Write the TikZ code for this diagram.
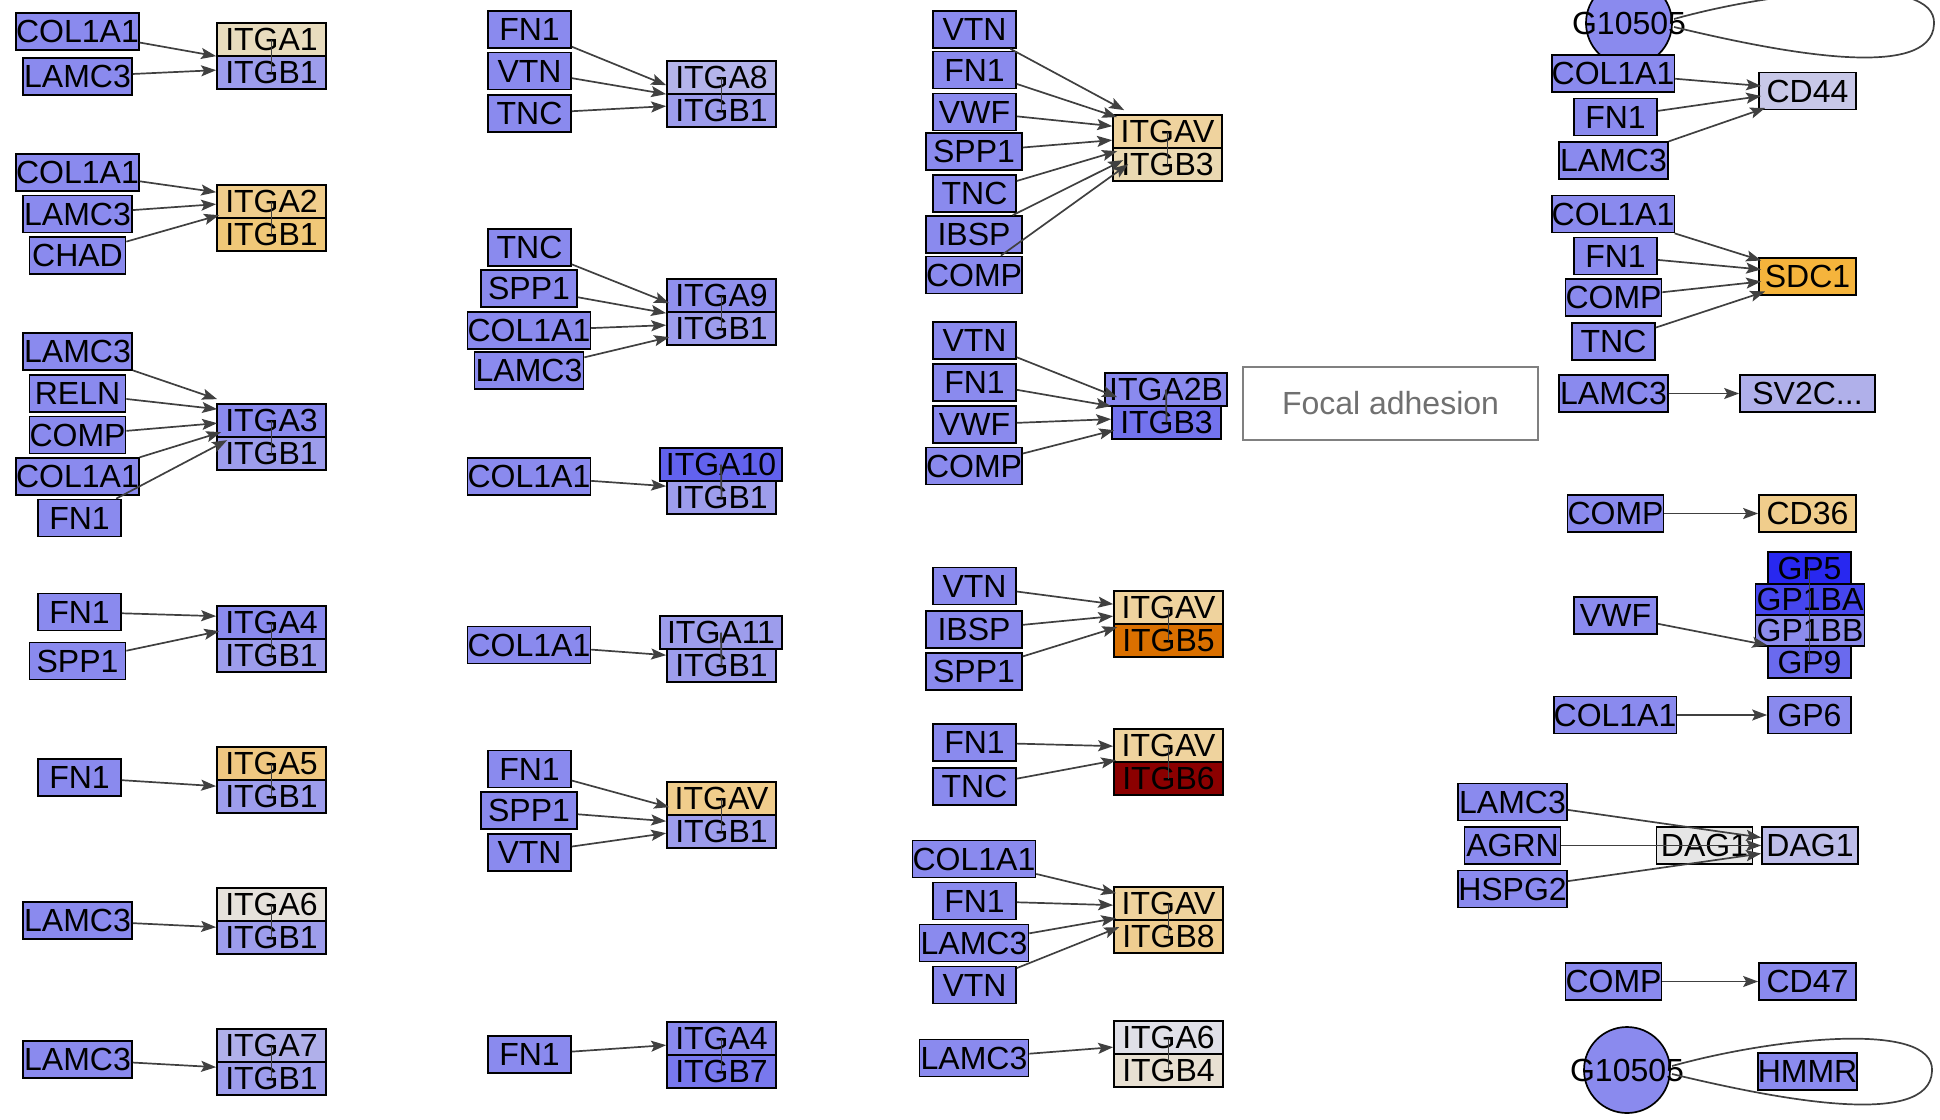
\documentclass[tikz,border=0pt]{standalone}
\usepackage{fontspec}
\setmainfont{Liberation Sans}
\usetikzlibrary{arrows.meta,calc}
\definecolor{ligand}{RGB}{138,138,238}
\definecolor{itgbone}{RGB}{157,157,236}
\definecolor{itgaone}{RGB}{232,220,190}
\definecolor{itgatwo}{RGB}{240,205,140}
\definecolor{itgbor}{RGB}{240,200,120}
\definecolor{itgafive}{RGB}{240,200,130}
\definecolor{itgasix}{RGB}{230,226,220}
\definecolor{itgaseven}{RGB}{176,176,234}
\definecolor{itgaeight}{RGB}{180,180,234}
\definecolor{itganine}{RGB}{144,144,238}
\definecolor{itgaten}{RGB}{98,98,238}
\definecolor{itgavor}{RGB}{240,205,140}
\definecolor{itgbseven}{RGB}{120,120,238}
\definecolor{itgavtan}{RGB}{239,211,158}
\definecolor{itgbthreetan}{RGB}{234,217,178}
\definecolor{itgbthreeblue}{RGB}{115,115,238}
\definecolor{itgbfive}{RGB}{218,112,0}
\definecolor{itgbsix}{RGB}{139,0,0}
\definecolor{itgbeight}{RGB}{239,205,144}
\definecolor{itgasixb}{RGB}{224,224,232}
\definecolor{itgbfour}{RGB}{232,224,210}
\definecolor{cdff}{RGB}{200,200,232}
\definecolor{sdcone}{RGB}{245,180,60}
\definecolor{svtwoc}{RGB}{176,176,234}
\definecolor{gpfive}{RGB}{40,40,240}
\definecolor{gponeba}{RGB}{70,70,238}
\definecolor{gponebb}{RGB}{140,140,236}
\definecolor{gpnine}{RGB}{106,106,238}
\definecolor{daggray}{RGB}{230,230,230}
\definecolor{dagone}{RGB}{190,190,234}
\definecolor{edgegray}{RGB}{64,64,64}
\definecolor{notegray}{RGB}{128,128,128}
\definecolor{notetext}{RGB}{112,112,112}
\newcommand{\genefont}{\fontsize{32}{32}\selectfont}

\begin{document}
\begin{tikzpicture}[x=1pt, y=-1pt,
    gene/.style={draw=black, line width=1.7pt, inner sep=0pt, minimum height=37pt, font=\genefont},
    half/.style={gene, minimum height=33pt},
    w83/.style={minimum width=83pt},
    w96/.style={minimum width=96pt},
    w109/.style={minimum width=109pt},
    w122/.style={minimum width=122pt},
    hub/.style={circle, draw=black, line width=1.7pt, fill=ligand, minimum size=86pt, inner sep=0pt},
    sig/.style={draw=edgegray, line width=1.7pt, -{Stealth[length=15pt,width=11pt,inset=3pt]}},
    bond/.style={draw=edgegray, line width=1.8pt},
    selfloop/.style={draw=edgegray, line width=1.7pt}]
  \useasboundingbox (0,0) rectangle (1940,1119);
  \clip (0,0) rectangle (1940,1119);
  % column 1: ITGB1 partners
  \node[gene, w122, fill=ligand] (p1col) at (77.5,31.5) {COL1A1};
  \node[gene, w109, fill=ligand] (p1lam) at (77.5,76.5) {LAMC3};
  \node[half, w109, fill=itgaone] (a1) at (271.5,39.5) {ITGA1};
  \node[half, w109, fill=itgbone] (b1) at (271.5,72.5) {ITGB1};
  \node[gene, w122, fill=ligand] (p2col) at (77.5,172.5) {COL1A1};
  \node[gene, w109, fill=ligand] (p2lam) at (77.5,214) {LAMC3};
  \node[gene, w96, fill=ligand] (p2chad) at (77.5,255.5) {CHAD};
  \node[half, w109, fill=itgatwo] (a2) at (271.5,201.5) {ITGA2};
  \node[half, w109, fill=itgbor] (b2) at (271.5,234.5) {ITGB1};
  \node[gene, w109, fill=ligand] (p3lam) at (77.5,351.5) {LAMC3};
  \node[gene, w96, fill=ligand] (p3reln) at (77.5,393.5) {RELN};
  \node[gene, w96, fill=ligand] (p3comp) at (77.5,435) {COMP};
  \node[gene, w122, fill=ligand] (p3col) at (77.5,476.5) {COL1A1};
  \node[gene, w83, fill=ligand] (p3fn) at (79.5,518) {FN1};
  \node[half, w109, fill=ligand] (a3) at (271.5,420.5) {ITGA3};
  \node[half, w109, fill=itgbone] (b3) at (271.5,453.5) {ITGB1};
  \node[gene, w83, fill=ligand] (p4fn) at (79.5,612) {FN1};
  \node[gene, w96, fill=ligand] (p4spp) at (77.5,661) {SPP1};
  \node[half, w109, fill=ligand] (a4) at (271.5,622.5) {ITGA4};
  \node[half, w109, fill=itgbone] (b4) at (271.5,655.5) {ITGB1};
  \node[gene, w83, fill=ligand] (p5fn) at (79.5,777.5) {FN1};
  \node[half, w109, fill=itgafive] (a5) at (271.5,763.5) {ITGA5};
  \node[half, w109, fill=itgbone] (b5) at (271.5,796.5) {ITGB1};
  \node[gene, w109, fill=ligand] (p6lam) at (77.5,920.5) {LAMC3};
  \node[half, w109, fill=itgasix] (a6) at (271.5,904.5) {ITGA6};
  \node[half, w109, fill=itgbone] (b6) at (271.5,937.5) {ITGB1};
  \node[gene, w109, fill=ligand] (p7lam) at (77.5,1059.5) {LAMC3};
  \node[half, w109, fill=itgaseven] (a7) at (271.5,1045.5) {ITGA7};
  \node[half, w109, fill=itgbone] (b7) at (271.5,1078.5) {ITGB1};
  % column 2
  \node[gene, w83, fill=ligand] (p8fn) at (529.5,29.5) {FN1};
  \node[gene, w83, fill=ligand] (p8vtn) at (529.5,71) {VTN};
  \node[gene, w83, fill=ligand] (p8tnc) at (529.5,113.5) {TNC};
  \node[half, w109, fill=itgaeight] (a8) at (721.5,77.5) {ITGA8};
  \node[half, w109, fill=itgbone] (b8) at (721.5,110.5) {ITGB1};
  \node[gene, w83, fill=ligand] (p9tnc) at (529.5,247.5) {TNC};
  \node[gene, w96, fill=ligand] (p9spp) at (529,288.5) {SPP1};
  \node[gene, w122, fill=ligand] (p9col) at (529,330.5) {COL1A1};
  \node[gene, w109, fill=ligand] (p9lam) at (529,370.5) {LAMC3};
  \node[half, w109, fill=itganine] (a9) at (721.5,295.5) {ITGA9};
  \node[half, w109, fill=itgbone] (b9) at (721.5,328.5) {ITGB1};
  \node[gene, w122, fill=ligand] (p10col) at (529,476.5) {COL1A1};
  \node[half, w109, fill=itgbone] (b10) at (721.5,497.5) {ITGB1};
  \node[half, w122, fill=itgaten] (a10) at (721,464.5) {ITGA10};
  \node[gene, w122, fill=ligand] (p11col) at (529,645) {COL1A1};
  \node[half, w109, fill=itgbone] (b11) at (721.5,665.5) {ITGB1};
  \node[half, w122, fill=itgbone] (a11) at (721,632.5) {ITGA11};
  \node[gene, w83, fill=ligand] (p12fn) at (529.5,769) {FN1};
  \node[gene, w96, fill=ligand] (p12spp) at (529,810.5) {SPP1};
  \node[gene, w83, fill=ligand] (p12vtn) at (529.5,852.5) {VTN};
  \node[half, w109, fill=itgavor] (a12) at (721.5,798.5) {ITGAV};
  \node[half, w109, fill=itgbone] (b12) at (721.5,831.5) {ITGB1};
  \node[gene, w83, fill=ligand] (p13fn) at (529.5,1054.5) {FN1};
  \node[half, w109, fill=ligand] (a13) at (721.5,1038.5) {ITGA4};
  \node[half, w109, fill=itgbseven] (b13) at (721.5,1071.5) {ITGB7};
  % column 3: ITGAV and others
  \node[gene, w83, fill=ligand] (p14vtn) at (974.5,29.5) {VTN};
  \node[gene, w83, fill=ligand] (p14fn) at (974.5,70) {FN1};
  \node[gene, w83, fill=ligand] (p14vwf) at (974.5,112) {VWF};
  \node[gene, w96, fill=ligand] (p14spp) at (974,151.5) {SPP1};
  \node[gene, w83, fill=ligand] (p14tnc) at (974.5,193.5) {TNC};
  \node[gene, w96, fill=ligand] (p14ibsp) at (974,234.5) {IBSP};
  \node[gene, w96, fill=ligand] (p14comp) at (974,275) {COMP};
  \node[half, w109, fill=itgavtan] (a14) at (1167.5,131.5) {ITGAV};
  \node[half, w109, fill=itgbthreetan] (b14) at (1167.5,164.5) {ITGB3};
  \node[gene, w83, fill=ligand] (p15vtn) at (974.5,340.5) {VTN};
  \node[gene, w83, fill=ligand] (p15fn) at (974.5,382.5) {FN1};
  \node[gene, w83, fill=ligand] (p15vwf) at (974.5,424.5) {VWF};
  \node[gene, w96, fill=ligand] (p15comp) at (974,466) {COMP};
  \node[half, w109, fill=itgbthreeblue] (b15) at (1166.5,422.5) {ITGB3};
  \node[half, w122, fill=ligand] (a15) at (1166,389.5) {ITGA2B};
  \node[gene, w83, fill=ligand] (p16vtn) at (974.5,586) {VTN};
  \node[gene, w96, fill=ligand] (p16ibsp) at (974,629.5) {IBSP};
  \node[gene, w96, fill=ligand] (p16spp) at (974,671.5) {SPP1};
  \node[half, w109, fill=itgavtan] (a16) at (1168.5,607.5) {ITGAV};
  \node[half, w109, fill=itgbfive] (b16) at (1168.5,640.5) {ITGB5};
  \node[gene, w83, fill=ligand] (p17fn) at (974.5,742.5) {FN1};
  \node[gene, w83, fill=ligand] (p17tnc) at (974.5,786.5) {TNC};
  \node[half, w109, fill=itgavtan] (a17) at (1168.5,745.5) {ITGAV};
  \node[half, w109, fill=itgbsix] (b17) at (1168.5,778.5) {ITGB6};
  \node[gene, w122, fill=ligand] (p18col) at (974,859) {COL1A1};
  \node[gene, w83, fill=ligand] (p18fn) at (974.5,901) {FN1};
  \node[gene, w109, fill=ligand] (p18lam) at (974,943) {LAMC3};
  \node[gene, w83, fill=ligand] (p18vtn) at (974.5,985) {VTN};
  \node[half, w109, fill=itgavtan] (a18) at (1168.5,903.5) {ITGAV};
  \node[half, w109, fill=itgbeight] (b18) at (1168.5,936.5) {ITGB8};
  \node[gene, w109, fill=ligand] (p19lam) at (974,1058) {LAMC3};
  \node[half, w109, fill=itgasixb] (a19) at (1168.5,1037.5) {ITGA6};
  \node[half, w109, fill=itgbfour] (b19) at (1168.5,1070.5) {ITGB4};
  % label box
  \node[draw=notegray, line width=2pt, fill=white, minimum width=295pt, minimum height=73pt,
    font=\genefont, text=notetext] (focal) at (1390.5,403.5) {Focal adhesion};
  % column 4: other receptors
  \node[hub, label={[font=\genefont]center:G10505}] (hubtop) at (1629,23) {};
  \node[gene, w122, fill=ligand] (q1col) at (1613,73.5) {COL1A1};
  \node[gene, w83, fill=ligand] (q1fn) at (1615.5,117) {FN1};
  \node[gene, w109, fill=ligand] (q1lam) at (1613.5,160.5) {LAMC3};
  \node[gene, minimum width=97pt, fill=cdff] (cd44) at (1807.5,91) {CD44};
  \node[gene, w122, fill=ligand] (q2col) at (1613,214) {COL1A1};
  \node[gene, w83, fill=ligand] (q2fn) at (1615.5,256) {FN1};
  \node[gene, w96, fill=ligand] (q2comp) at (1613.5,297.5) {COMP};
  \node[gene, w83, fill=ligand] (q2tnc) at (1613.5,341.5) {TNC};
  \node[gene, minimum width=97pt, fill=sdcone] (sdc1) at (1807.5,276.5) {SDC1};
  \node[gene, w109, fill=ligand] (q3lam) at (1613.5,393.5) {LAMC3};
  \node[gene, minimum width=135pt, fill=svtwoc] (sv2c) at (1807.5,393.5) {SV2C...};
  \node[gene, w96, fill=ligand] (q4comp) at (1615.5,513.5) {COMP};
  \node[gene, minimum width=97pt, fill=itgavor] (cd36) at (1807.5,513.5) {CD36};
  \node[gene, w83, fill=ligand] (q5vwf) at (1615.5,615.5) {VWF};
  \node[gene, w83, minimum height=32pt, fill=gpfive] (gp5) at (1809.5,568) {GP5};
  \node[gene, w109, minimum height=31pt, fill=gponeba] (gp1ba) at (1810,599.5) {GP1BA};
  \node[gene, w109, minimum height=31pt, fill=gponebb] (gp1bb) at (1810,630.5) {GP1BB};
  \node[gene, w83, minimum height=32pt, fill=gpnine] (gp9) at (1809.5,662) {GP9};
  \node[gene, w122, fill=ligand] (q6col) at (1615,715) {COL1A1};
  \node[gene, w83, fill=ligand] (gp6) at (1809.5,715) {GP6};
  \node[gene, w109, fill=ligand] (q7lam) at (1512.5,802) {LAMC3};
  \node[gene, w96, fill=ligand] (q7agrn) at (1512.5,845.5) {AGRN};
  \node[gene, w109, fill=ligand] (q7hspg) at (1512.5,889) {HSPG2};
  \node[gene, w96, fill=daggray] (dagx) at (1704.5,845.5) {DAG1};
  \node[gene, w96, fill=dagone] (dag1) at (1810,845.5) {DAG1};
  \node[gene, w96, fill=ligand] (q8comp) at (1613.5,981.5) {COMP};
  \node[gene, minimum width=97pt, fill=ligand] (cd47) at (1807.5,981.5) {CD47};
  \node[hub, label={[font=\genefont]center:G10505}] (hubbot) at (1627,1070) {};
  \node[gene, minimum width=97pt, fill=ligand] (hmmr) at (1807.5,1071.5) {HMMR};
  % complex links
  \foreach \n in {1,...,19}
    \draw[bond] (a\n.center) -- (b\n.center);
  \draw[bond] (gp5.center) -- (gp9.center);
  % ligand arrows, column 1
  \draw[sig] (p1col) -- ($(b1.north west)+(0,1)$);
  \draw[sig] (p1lam) -- ($(b1.north west)+(0,15)$);
  \draw[sig] (p2col) -- ($(b2.north west)+(0,-25)$);
  \draw[sig] (p2lam) -- ($(b2.north west)+(0,-13)$);
  \draw[sig] (p2chad) -- ($(b2.north west)+(3,-2)$);
  \draw[sig] (p3lam) -- ($(b3.north west)+(1,-37)$);
  \draw[sig] (p3reln) -- ($(b3.north west)+(1,-27)$);
  \draw[sig] (p3comp) -- ($(b3.north west)+(1,-13)$);
  \draw[sig] (p3col) -- ($(b3.north west)+(5,-4)$);
  \draw[sig] (p3fn) -- ($(b3.north west)+(11,4)$);
  \draw[sig] (p4fn) -- ($(b4.north west)+(0,-22)$);
  \draw[sig] (p4spp) -- ($(b4.north west)+(3,-7)$);
  \draw[sig] (p5fn) -- ($(b5.north west)+(0,7)$);
  \draw[sig] (p6lam) -- ($(b6.north west)+(0,7)$);
  \draw[sig] (p7lam) -- ($(b7.north west)+(0,6)$);
  % column 2
  \draw[sig] (p8fn) -- ($(b8.north west)+(0,-8)$);
  \draw[sig] (p8vtn) -- ($(b8.north west)+(0,1)$);
  \draw[sig] (p8tnc) -- ($(b8.north west)+(0,13)$);
  \draw[sig] (p9tnc) -- ($(b9.north west)+(3,-8)$);
  \draw[sig] (p9spp) -- ($(b9.north west)+(0,2)$);
  \draw[sig] (p9col) -- ($(b9.north west)+(0,14)$);
  \draw[sig] (p9lam) -- ($(b9.north west)+(3,26)$);
  \draw[sig] (p10col) -- ($(b10.north west)+(0,6)$);
  \draw[sig] (p11col) -- ($(b11.north west)+(0,7)$);
  \draw[sig] (p12fn) -- ($(b12.north west)+(3,-7)$);
  \draw[sig] (p12spp) -- ($(b12.north west)+(0,7)$);
  \draw[sig] (p12vtn) -- ($(b12.north west)+(0,19)$);
  \draw[sig] (p13fn) -- ($(b13.north west)+(0,-9)$);
  % column 3
  \draw[sig] (p14vtn) -- ($(b14.north west)+(12,-37)$);
  \draw[sig] (p14fn) -- ($(b14.north west)+(5,-30)$);
  \draw[sig] (p14vwf) -- ($(b14.north west)+(0,-21)$);
  \draw[sig] (p14spp) -- ($(b14.north west)+(0,-7)$);
  \draw[sig] (p14tnc) -- ($(b14.north west)+(5,4)$);
  \draw[sig] (p14ibsp) -- ($(b14.north west)+(11,13)$);
  \draw[sig] (p14comp) -- ($(b14.north west)+(16,17)$);
  \draw[sig] (p15vtn) -- ($(b15.north west)+(6,-8)$);
  \draw[sig] (p15fn) -- ($(b15.north west)+(0,1)$);
  \draw[sig] (p15vwf) -- ($(b15.north west)+(0,14)$);
  \draw[sig] (p15comp) -- ($(b15.north west)+(3,25)$);
  \draw[sig] (p16vtn) -- ($(b16.north west)+(0,-19)$);
  \draw[sig] (p16ibsp) -- ($(b16.north west)+(0,-7)$);
  \draw[sig] (p16spp) -- ($(b16.north west)+(4,4)$);
  \draw[sig] (p17fn) -- ($(b17.north west)+(0,-15)$);
  \draw[sig] (p17tnc) -- ($(b17.north west)+(3,-1)$);
  \draw[sig] (p18col) -- ($(b18.north west)+(3,-26)$);
  \draw[sig] (p18fn) -- ($(b18.north west)+(0,-14)$);
  \draw[sig] (p18lam) -- ($(b18.north west)+(3,-1)$);
  \draw[sig] (p18vtn) -- ($(b18.north west)+(6,8)$);
  \draw[sig] (p19lam) -- ($(b19.north west)+(0,-6)$);
  % column 4
  \draw[sig] (q1col) -- ($(cd44.west)+(3,-5)$);
  \draw[sig] (q1fn) -- ($(cd44.west)+(3,5)$);
  \draw[sig] (q1lam) -- ($(cd44.west)+(7,17)$);
  \draw[sig] (q2col) -- ($(sdc1.west)+(3,-16)$);
  \draw[sig] (q2fn) -- ($(sdc1.west)+(3,-7)$);
  \draw[sig] (q2comp) -- ($(sdc1.west)+(3,5)$);
  \draw[sig] (q2tnc) -- ($(sdc1.west)+(7,15)$);
  \draw[sig] (q3lam) -- (sv2c.west);
  \draw[sig] (q4comp) -- (cd36.west);
  \draw[sig] (q5vwf) -- (gp9.north west);
  \draw[sig] (q6col) -- (gp6.west);
  \draw[sig] (q7lam) -- ($(dag1.west)+(0,-8)$);
  \draw[sig] (q7agrn) -- (dag1.west);
  \draw[sig] (q7hspg) -- ($(dag1.west)+(0,8)$);
  \draw[sig] (q8comp) -- (cd47.west);
  % self loops on G10505
  \foreach \h in {hubtop,hubbot}
    \draw[selfloop] ($(\h.center)+(45,-4)$) .. controls ($(\h.center)+(145,-32)$) and ($(\h.center)+(308,-50)$) .. ($(\h.center)+(305,1)$)
      .. controls ($(\h.center)+(303,60)$) and ($(\h.center)+(145,28)$) .. ($(\h.center)+(45,4)$);
\end{tikzpicture}
\end{document}
